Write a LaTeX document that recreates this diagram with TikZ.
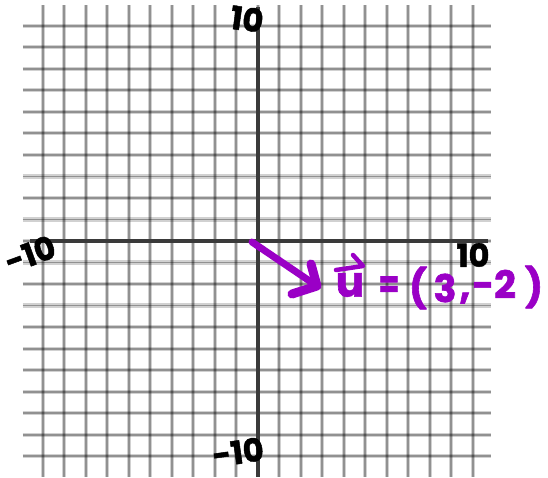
\documentclass[tikz,border=0pt]{standalone}
\usepackage{fontspec}
\setmainfont{Poppins}[BoldFeatures={FakeBold=1.5}]
\definecolor{pen}{HTML}{9A00C6}
\definecolor{axisgray}{HTML}{3A3A3A}
\begin{document}
\begin{tikzpicture}[x=1pt,y=-1pt,
  gridline/.style={line width=4.2pt, draw=black, draw opacity=0.18},
  gridcore/.style={line width=1.8pt, draw=black, draw opacity=0.3},
  axisline/.style={line width=4pt, draw=axisgray},
  penstroke/.style={draw=pen, line cap=round, line join=round},
  hand/.style={font=\fontsize{32}{32}\selectfont\bfseries, inner sep=0pt, text=black},
  purp/.style={text=pen, font=\fontsize{38}{38}\selectfont\bfseries, inner sep=0pt}]
\fill[white] (0,0) rectangle (548,477);
\useasboundingbox (0,0) rectangle (548,477);
% grid
\foreach \k in {0,...,20} {
  \pgfmathsetmacro\gx{42.7+21.5*\k}
  \draw[gridline] (\gx,5) -- (\gx,477);
  \draw[gridcore] (\gx,5) -- (\gx,477);
}
\foreach \k in {0,...,20} {
  \pgfmathsetmacro\gy{25.7+21.53*\k}
  \draw[gridline] (22.7,\gy) -- (491,\gy);
  \draw[gridcore] (22.7,\gy) -- (491,\gy);
}
% axes
\draw[axisline] (257.7,7) -- (257.7,477);
\draw[axisline] (30,241) -- (488,241);
% axis labels
\node[hand, rotate=-8] (ytop) at (247,19) {10};
\node[hand, rotate=20] (xleft) at (30,254) {-10};
\node[hand] (xright) at (473,255) {10};
\node[hand, rotate=8] (ybot) at (238,452) {-10};
% vector
\coordinate (O) at (252,242);
\coordinate (tip) at (317,286);
\coordinate (hu) at (311,264);
\coordinate (hl) at (292,294);
\draw[penstroke, line width=7pt] (O) -- (tip);
\draw[penstroke, line width=9pt] (hu) -- (tip) -- (hl);
% label
\node[purp, font=\fontsize{42}{42}\selectfont\bfseries] (u) at (350,285) {u};
\coordinate (va) at (336,270);
\coordinate (vb) at (363,266);
\coordinate (vc) at (353,255);
\draw[penstroke, line width=4.5pt] (va) -- (vb) -- (vc);
\node[purp, xscale=0.8] (eq) at (389,287) {=};
\node[purp] (lp) at (418,288) {(};
\node[purp] (three) at (445,288) {3};
\node[purp] (comma) at (465,298) {,};
\node[purp] (mtwo) at (494,284) {-2};
\node[purp] (rp) at (534,287) {)};
\end{tikzpicture}
\end{document}
